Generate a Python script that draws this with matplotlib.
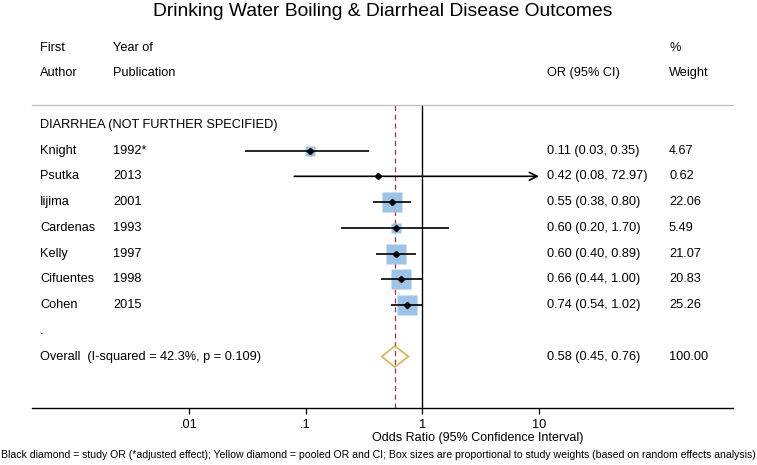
import matplotlib
matplotlib.use("Agg")
import matplotlib.pyplot as plt
from matplotlib.transforms import blended_transform_factory
from matplotlib.patches import Polygon
import numpy as np

plt.rcParams['font.family'] = ['Liberation Sans', 'DejaVu Sans']

# ---- data ----
authors = ['Knight', 'Psutka', 'Iijima', 'Cardenas', 'Kelly', 'Cifuentes', 'Cohen']
years = ['1992*', '2013', '2001', '1993', '1997', '1998', '2015']
odds = [0.11, 0.42, 0.55, 0.60, 0.60, 0.66, 0.74]
ci_low = [0.03, 0.08, 0.38, 0.20, 0.40, 0.44, 0.54]
ci_high = [0.35, 72.97, 0.80, 1.70, 0.89, 1.00, 1.02]
weights = [4.67, 0.62, 22.06, 5.49, 21.07, 20.83, 25.26]
pooled_or = 0.58
pooled_low = 0.45
pooled_high = 0.76
pooled_weight = 100.00
heterogeneity = "Overall  (I-squared = 42.3%, p = 0.109)"
tick_values = [0.01, 0.1, 1, 10]
tick_labels = ['.01', '.1', '1', '10']
ci_clip = 10

W, H = 757, 465
fig = plt.figure(figsize=(W / 100, H / 100), dpi=100)

ax_left, ax_right = 32, 733
ax_top, ax_bot = 105, 408
ax = fig.add_axes([ax_left / W, 1 - ax_bot / H, (ax_right - ax_left) / W, (ax_bot - ax_top) / H])

px_per_dec = 116.7
x_one = 422.3
ax.set_xscale('log')
ax.set_xlim(10 ** ((ax_left - x_one) / px_per_dec), 10 ** ((ax_right - x_one) / px_per_dec))
ax.set_ylim(11.0, -0.77)

for s in ['left', 'right']:
    ax.spines[s].set_visible(False)
ax.spines['top'].set_color('#bdbdbd')
ax.spines['top'].set_linewidth(0.9)
ax.spines['bottom'].set_color('black')
ax.spines['bottom'].set_linewidth(1.0)
ax.set_yticks([])
ax.set_xticks(tick_values)
ax.set_xticklabels(tick_labels)
ax.minorticks_off()
ax.tick_params(axis='x', direction='out', length=4, width=0.9, pad=4, labelsize=9.2)

fs = 9.2
# reference lines
ax.axvline(1, color='black', lw=1.0, zorder=1)
ax.axvline(pooled_or, color='#a3313f', lw=0.9, dashes=(4, 3), zorder=1)

rows = np.arange(1, len(authors) + 1)
for i, y in enumerate(rows):
    hi = min(ci_high[i], ci_clip)
    side = 3.0 * np.sqrt(weights[i])
    ax.plot([odds[i]], [y], marker='s', ms=side, color='#9dc3e6', mec='none', ls='none', zorder=2)
    if ci_high[i] > ci_clip:
        ax.annotate('', xy=(hi, y), xytext=(ci_low[i], y),
                    arrowprops=dict(arrowstyle='->', lw=1.2, color='black', mutation_scale=14,
                                    shrinkA=0, shrinkB=0), zorder=3)
    else:
        ax.plot([ci_low[i], hi], [y, y], color='black', lw=1.2, zorder=3, solid_capstyle='butt')
    ax.plot([odds[i]], [y], marker='D', ms=3.2, color='black', ls='none', zorder=4)

# pooled diamond
yp = 9
dh = 0.41
diamond = Polygon([(pooled_low, yp), (pooled_or, yp - dh), (pooled_high, yp), (pooled_or, yp + dh)],
                  closed=True, fill=False, edgecolor='#d2b55b', lw=1.2, zorder=3)
ax.add_patch(diamond)

# text columns
tr = blended_transform_factory(fig.transFigure, ax.transData)
x_auth, x_year, x_or, x_wt = 40 / W, 113 / W, 547 / W, 669 / W
kw = dict(transform=tr, fontsize=fs, va='center', ha='left', clip_on=False)
ax.text(x_auth, -3, 'First', **kw)
ax.text(x_auth, -2, 'Author', **kw)
ax.text(x_year, -3, 'Year of', **kw)
ax.text(x_year, -2, 'Publication', **kw)
ax.text(x_or, -2, 'OR (95% CI)', **kw)
ax.text(x_wt, -3, '%', **kw)
ax.text(x_wt, -2, 'Weight', **kw)
ax.text(x_auth, 0, 'DIARRHEA (NOT FURTHER SPECIFIED)', **kw)
for i, y in enumerate(rows):
    ax.text(x_auth, y, authors[i], **kw)
    ax.text(x_year, y, years[i], **kw)
    ax.text(x_or, y, f"{odds[i]:.2f} ({ci_low[i]:.2f}, {ci_high[i]:.2f})", **kw)
    ax.text(x_wt, y, f"{weights[i]:.2f}", **kw)
ax.text(x_auth, 8, '.', **kw)
ax.text(x_auth, 9, heterogeneity, **kw)
ax.text(x_or, 9, f"{pooled_or:.2f} ({pooled_low:.2f}, {pooled_high:.2f})", **kw)
ax.text(x_wt, 9, f"{pooled_weight:.2f}", **kw)

fig.text(383 / W, 1 - 11 / H, 'Drinking Water Boiling & Diarrheal Disease Outcomes',
         ha='center', va='center', fontsize=13.9)
fig.text(478 / W, 1 - 438 / H, 'Odds Ratio (95% Confidence Interval)',
         ha='center', va='center', fontsize=9.0)
fig.text(378.5 / W, 1 - 455 / H,
         'Black diamond = study OR (*adjusted effect); Yellow diamond = pooled OR and CI; '
         'Box sizes are proportional to study weights (based on random effects analysis)',
         ha='center', va='center', fontsize=7.55)

fig.savefig('out.png', dpi=100, facecolor='white')
